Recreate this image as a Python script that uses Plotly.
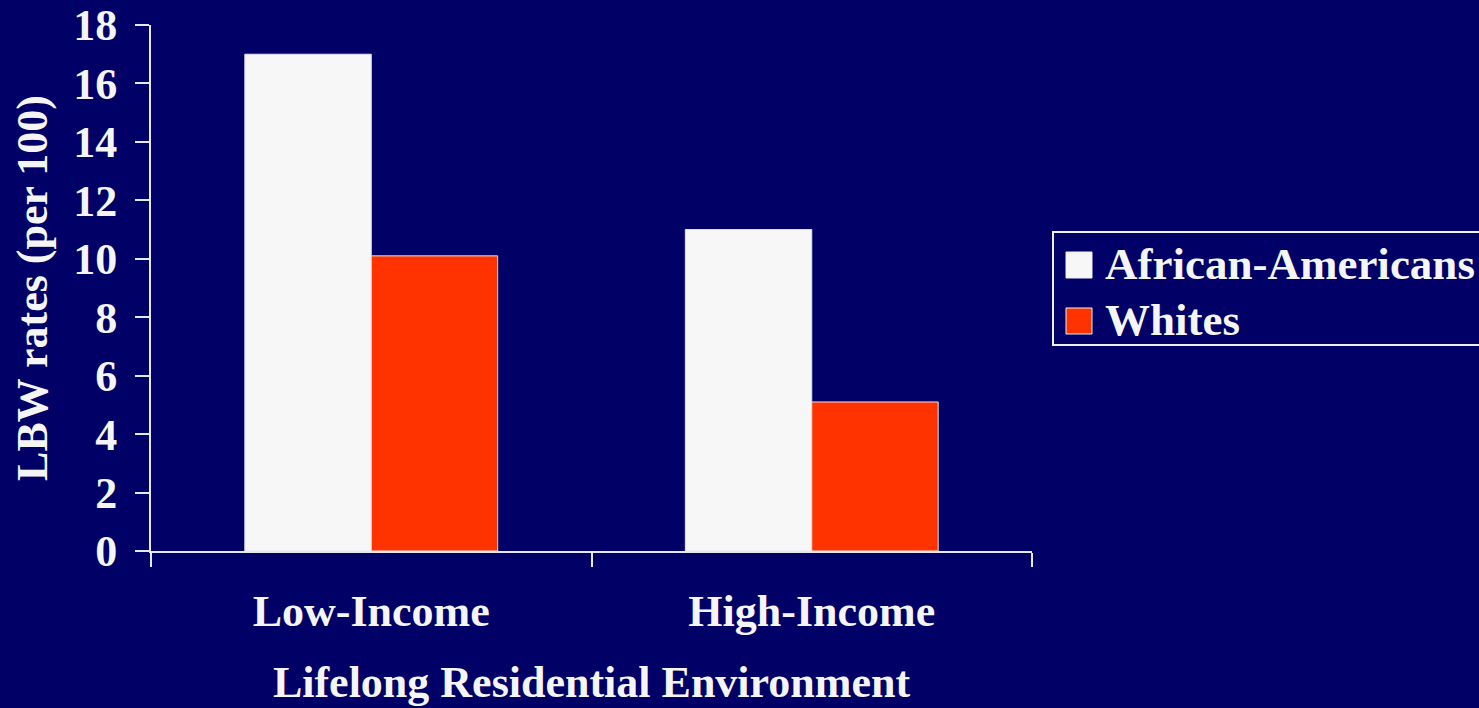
import plotly.graph_objects as go

# Low birth weight rates by lifelong residential environment
categories = ["Low-Income", "High-Income"]
series_names = ["African-Americans", "Whites"]
african_americans = [17.0, 11.0]
whites = [10.1, 5.1]
y_ticks = [0, 2, 4, 6, 8, 10, 12, 14, 16, 18]

BG = "#000066"
FG = "#F5F5F5"
COLORS = ["#F7F7F7", "#FF3300"]
FONT = "Times New Roman, Liberation Serif, serif"

W, H = 1479, 708
L, R, T, B = 151, 447, 25, 157
plot_w = W - L - R
plot_h = H - T - B


def px_x(x):
    return (x - L) / plot_w


def px_y(y):
    return (H - B - y) / plot_h


fig = go.Figure()
for name, vals, col in zip(series_names, [african_americans, whites], COLORS):
    fig.add_trace(go.Bar(
        x=categories, y=vals, name=name,
        marker=dict(color=col, line=dict(color="#E4E4EC", width=1)),
        showlegend=False,
    ))

fig.update_layout(
    width=W, height=H,
    margin=dict(l=L, r=R, t=T, b=B, autoexpand=False),
    paper_bgcolor=BG, plot_bgcolor=BG,
    font=dict(family=FONT, size=44, color=FG, weight="bold"),
    barmode="group", bargap=0.426, bargroupgap=0,
    xaxis=dict(
        automargin=False,
        showline=True, linecolor="#E8E8F0", linewidth=2,
        ticks="outside", ticklen=14, tickwidth=2, tickcolor="#E8E8F0",
        tickson="boundaries", showgrid=False, zeroline=False,
        ticklabelstandoff=20,
        title=dict(text="Lifelong Residential Environment", standoff=31,
                   font=dict(size=44, family=FONT, weight="bold")),
    ),
    yaxis=dict(
        automargin=False,
        range=[0, 18], tickvals=y_ticks,
        showline=True, linecolor="#E8E8F0", linewidth=2,
        ticks="outside", ticklen=14, tickwidth=2, tickcolor="#E8E8F0",
        showgrid=False, zeroline=False,
        ticklabelstandoff=9,
        title=dict(text="LBW rates (per 100)", standoff=12,
                   font=dict(size=44, family=FONT, weight="bold")),
    ),
)

# Legend box with swatches and labels
shapes = [dict(type="rect", xref="paper", yref="paper",
               x0=px_x(1053), x1=px_x(1495), y0=px_y(345), y1=px_y(232),
               line=dict(color="#F0F0F0", width=2), fillcolor="rgba(0,0,0,0)")]
swatch_tops = [252, 308]
text_mid = [264, 320]
for name, col, top, mid in zip(series_names, COLORS, swatch_tops, text_mid):
    shapes.append(dict(type="rect", xref="paper", yref="paper",
                       x0=px_x(1066), x1=px_x(1092), y0=px_y(top + 26), y1=px_y(top),
                       line=dict(color="#F0F0F0", width=1), fillcolor=col))
    fig.add_annotation(text=name, xref="paper", yref="paper",
                       x=px_x(1103), y=px_y(mid), xanchor="left", yanchor="middle",
                       showarrow=False,
                       font=dict(size=45, family=FONT, color=FG, weight="bold"))
fig.update_layout(shapes=shapes)

fig.write_html("out.html")
